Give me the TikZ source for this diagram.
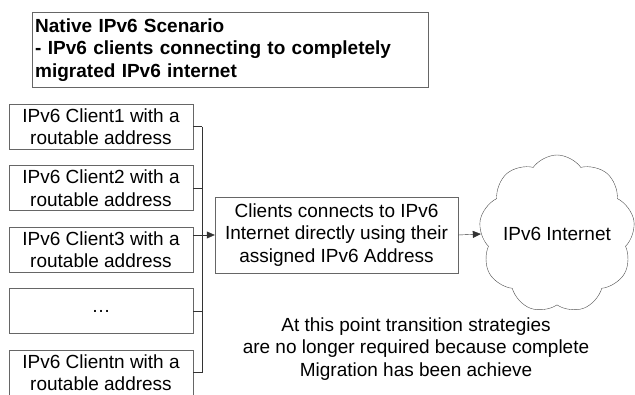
\documentclass[tikz,border=0pt]{standalone}
\usepackage{fontspec}
\setmainfont{Liberation Sans}
\usetikzlibrary{arrows.meta,shapes.symbols}

\begin{document}
\begin{tikzpicture}[x=1pt, y=-1pt,
    font=\fontsize{19}{22.5}\selectfont,
    box/.style={draw=black!60, minimum width=184pt, minimum height=45pt, align=center, inner sep=0pt},
    link/.style={draw=black!80},
    arr/.style={link, -{Triangle[length=8pt,width=7pt]}}]
  \useasboundingbox (0,0) rectangle (635,394);
  \clip (0,0) rectangle (635,394);
  \node[box, anchor=north west, minimum width=396pt, minimum height=75pt, text width=390pt, align=left, inner xsep=3pt, font=\fontsize{19}{22.5}\selectfont\bfseries] (title) at (32,12)
    {Native IPv6 Scenario\\- IPv6 clients connecting to completely\\migrated IPv6 internet};
  \foreach \t [count=\n] in {
      IPv6 Client1 with a\\routable address,
      IPv6 Client2 with a\\routable address,
      IPv6 Client3 with a\\routable address,
      \ldots,
      IPv6 Clientn with a\\routable address
    } {
      \node[box] (c\n) at (101,{126.5+61.5*(\n-1)}) {\t};
    }
  \coordinate (bus) at (202,0);
  \node[box, minimum width=243pt, minimum height=76pt] (mid) at (336.5,235)
    {Clients connects to IPv6\\Internet directly using their\\assigned IPv6 Address};
  \node[cloud, draw=black!70, cloud puffs=9, cloud puff arc=110, minimum width=156pt, minimum height=158pt] (net) at (557,234) {};
  \node (nettext) at (net.center) {IPv6 Internet};
  \node[align=center] (note) at (416,349)
    {At this point transition strategies\\are no longer required because complete\\Migration has been achieve};
  \foreach \n in {1,2,4,5}
    \draw[link] (c\n.east) -- (c\n.east -| bus);
  \draw[link] (c1.east -| bus) -- (c5.east -| bus);
  \draw[arr] (c3.east |- mid) -- (mid.west);
  \draw[arr] (mid.east) -- (net.west);
\end{tikzpicture}
\end{document}
